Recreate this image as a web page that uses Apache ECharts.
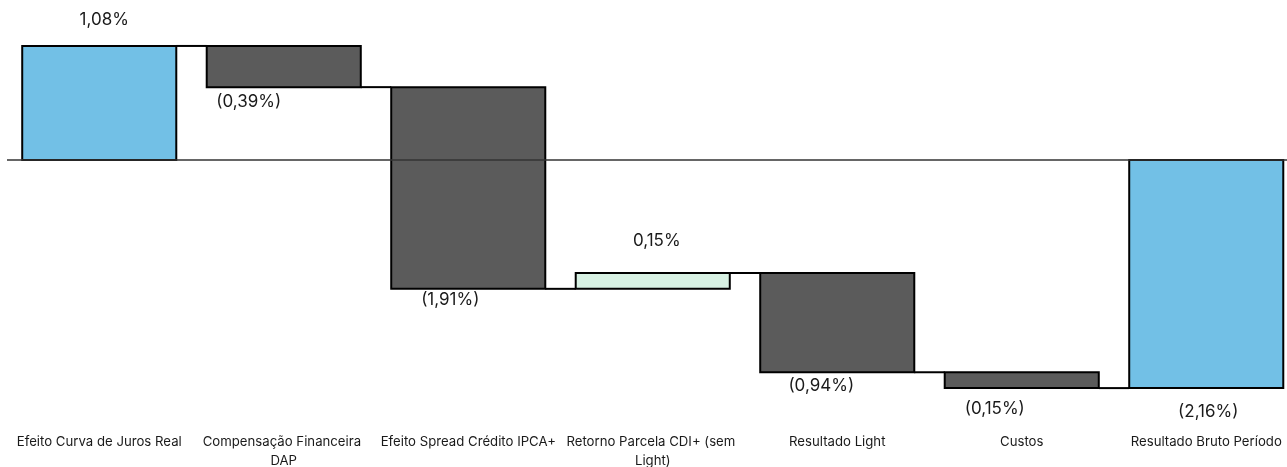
<!DOCTYPE html>
<html>
<head>
<meta charset="utf-8">
<script src="https://cdn.jsdelivr.net/npm/echarts@6/dist/echarts.min.js"></script>
<style>html,body{margin:0;padding:0;background:#fff}#c{width:1287px;height:467px}</style>
</head>
<body>
<div id="c"></div>
<script>
// ---- data ----
const categories = ['Efeito Curva de Juros Real','Compensação Financeira DAP','Efeito Spread Crédito IPCA+','Retorno Parcela CDI+ (sem Light)','Resultado Light','Custos','Resultado Bruto Período'];
const deltas = [1.08, -0.39, -1.91, 0.15, -0.94, -0.15, -2.16];
const isTotal = [false, false, false, false, false, false, true];
const yTicks = { min: -2.5, max: 1.5 };

// ---- style / layout ----
const colors = ['#72C0E6','#5B5B5B','#5B5B5B','#D7F1E3','#5B5B5B','#5B5B5B','#72C0E6'];
const labelShift = [[5,-26],[-35,15],[-18,11],[4,-32],[-16,14],[-27,21],[2,24]];
const FONT = 'Inter, "Noto Sans", sans-serif';

// build waterfall ranges
let run = 0;
const rows = deltas.map((d, i) => {
  let s, e;
  if (isTotal[i]) { s = 0; e = d; run = d; }
  else { s = run; e = run + d; run = e; }
  return [i, s, e, d];
});
function fmt(v){
  const t = Math.abs(v).toFixed(2).replace('.', ',') + '%';
  return v < 0 ? '(' + t + ')' : t;
}

const chart = echarts.init(document.getElementById('c'), null, {renderer:'canvas'});
chart.setOption({
  animation: false,
  grid: { left: 7, right: -11.5, top: 1.6, bottom: 43, containLabel: false, outerBoundsMode: 'none' },
  xAxis: {
    type: 'category', data: categories,
    axisLine: { show: false, onZero: false }, axisTick: { show: false },
    axisLabel: { interval: 0, margin: 9, color: '#1a1a1a', fontSize: 13.2, fontFamily: FONT,
      width: 184, overflow: 'break', lineHeight: 19 }
  },
  yAxis: { type: 'value', min: yTicks.min, max: yTicks.max, show: false, splitLine: { show: false } },
  series: [{
    type: 'custom',
    data: rows,
    encode: { x: 0, y: [1, 2] },
    clip: false,
    renderItem: function(params, api){
      const i = api.value(0), s = api.value(1), e = api.value(2), d = api.value(3);
      const p1 = api.coord([i, s]), p2 = api.coord([i, e]);
      const cw = api.size([1, 0])[0];
      const w = cw * 0.835;
      const x = p1[0] - w / 2;
      const top = Math.min(p1[1], p2[1]), bot = Math.max(p1[1], p2[1]);
      const children = [];
      if (i < rows.length - 1) {
        children.push({ type: 'line', shape: { x1: x + w, y1: p2[1], x2: x + cw, y2: p2[1] },
          style: { stroke: '#000', lineWidth: 2 } });
      }
      children.push({ type: 'rect', shape: { x: x, y: top, width: w, height: bot - top },
        style: { fill: colors[i], stroke: '#000', lineWidth: 2 } });
      const sh = labelShift[i];
      const ly = d >= 0 ? top + sh[1] : bot + sh[1];
      children.push({ type: 'text', x: p1[0] + sh[0], y: ly,
        style: { text: fmt(d), fill: '#1a1a1a', font: '17px ' + FONT, align: 'center', verticalAlign: 'middle' } });
      return { type: 'group', children: children };
    },
    markLine: {
      silent: true, symbol: 'none', label: { show: false },
      lineStyle: { color: '#333', width: 1.5, type: 'solid' },
      data: [{ yAxis: 0 }]
    },
    z: 2
  }]
});
</script>
</body>
</html>
